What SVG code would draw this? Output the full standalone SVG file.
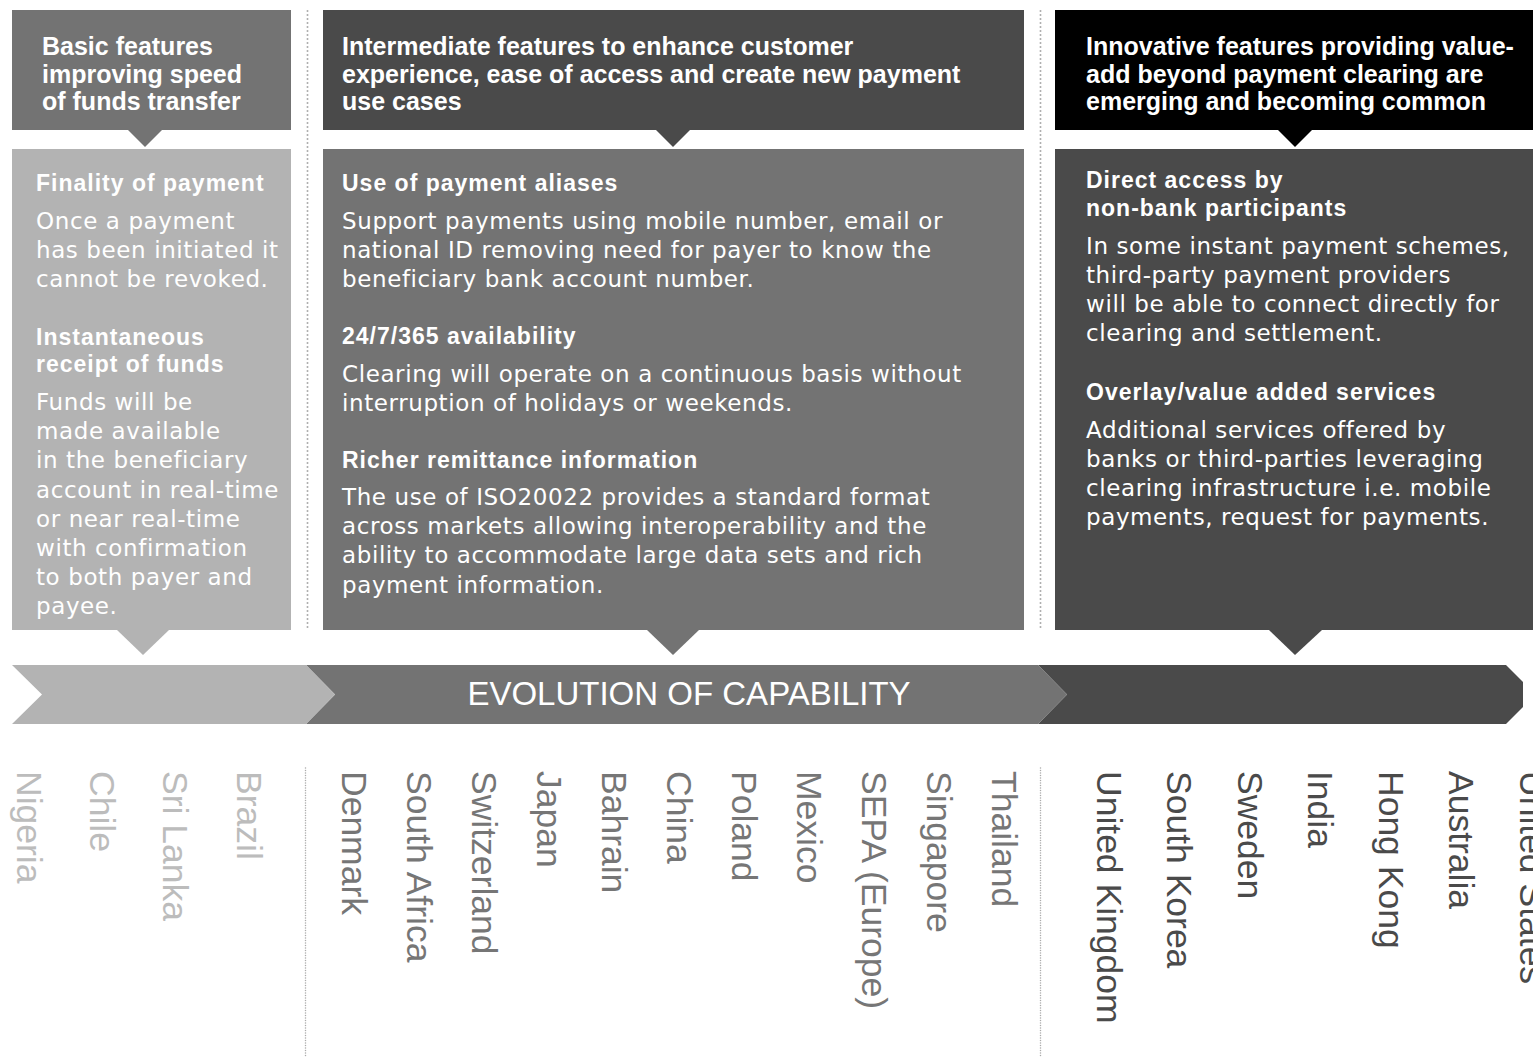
<svg xmlns="http://www.w3.org/2000/svg" width="1533" height="1062" viewBox="0 0 1533 1062">
  <style>
    .light { fill: #b3b3b3; }
    .mid { fill: #737373; }
    .dark { fill: #4a4a4a; }
    .black { fill: #000000; }
    .hdr { font-family: "Liberation Sans", Arial, sans-serif; font-weight: bold; font-size: 25px; fill: #ffffff; }
    .sub { font-family: "Liberation Sans", Arial, sans-serif; font-weight: bold; font-size: 23px; letter-spacing: 1px; fill: #ffffff; }
    .txt { font-family: "DejaVu Sans", "Liberation Sans", sans-serif; font-size: 23px; letter-spacing: 0.6px; fill: #ffffff; }
    .band { font-family: "Liberation Sans", Arial, sans-serif; font-size: 33px; fill: #ffffff; }
    .cty { font-family: "Liberation Sans", Arial, sans-serif; font-size: 35.5px; }
    .cl { fill: #bcbcbc; }
    .cm { fill: #767676; }
    .cd { fill: #4a4a4a; }
    .sep { stroke: #aaaaaa; stroke-width: 2; stroke-linecap: round; fill: none; }
    .sep-top { stroke-dasharray: 0 4; }
    .sep-bot { stroke-width: 1.5; stroke-dasharray: 0 2.5; }
  </style>

  <rect width="1533" height="1062" fill="#ffffff"/>

  <!-- column separators -->
  <g id="separators">
    <line class="sep sep-top" x1="307.5" y1="11" x2="307.5" y2="630"/>
    <line class="sep sep-top" x1="1040.5" y1="11" x2="1040.5" y2="630"/>
    <line class="sep sep-bot" x1="305.5" y1="768" x2="305.5" y2="1058"/>
    <line class="sep sep-bot" x1="1040.5" y1="768" x2="1040.5" y2="1058"/>
  </g>

  <!-- column headers -->
  <g id="header-basic">
    <rect class="mid" x="12" y="10" width="279" height="120"/>
    <text class="hdr" x="42" y="55">Basic features</text>
    <text class="hdr" x="42" y="83">improving speed</text>
    <text class="hdr" x="42" y="110">of funds transfer</text>
  </g>
  <g id="header-intermediate">
    <rect class="dark" x="323" y="10" width="701" height="120"/>
    <text class="hdr" x="342" y="55">Intermediate features to enhance customer</text>
    <text class="hdr" x="342" y="83">experience, ease of access and create new payment</text>
    <text class="hdr" x="342" y="110">use cases</text>
  </g>
  <g id="header-innovative">
    <rect class="black" x="1055" y="10" width="478" height="120"/>
    <text class="hdr" x="1086" y="55">Innovative features providing value-</text>
    <text class="hdr" x="1086" y="83">add beyond payment clearing are</text>
    <text class="hdr" x="1086" y="110">emerging and becoming common</text>
  </g>

  <!-- feature panels -->
  <g id="body-basic">
    <rect class="light" x="12" y="149" width="279" height="481"/>
    <text class="sub" x="36" y="191">Finality of payment</text>
    <text class="txt" x="36" y="229">Once a payment</text>
    <text class="txt" x="36" y="258">has been initiated it</text>
    <text class="txt" x="36" y="287">cannot be revoked.</text>
    <text class="sub" x="36" y="345">Instantaneous</text>
    <text class="sub" x="36" y="372">receipt of funds</text>
    <text class="txt" x="36" y="410">Funds will be</text>
    <text class="txt" x="36" y="439">made available</text>
    <text class="txt" x="36" y="468">in the beneficiary</text>
    <text class="txt" x="36" y="498">account in real-time</text>
    <text class="txt" x="36" y="527">or near real-time</text>
    <text class="txt" x="36" y="556">with confirmation</text>
    <text class="txt" x="36" y="585">to both payer and</text>
    <text class="txt" x="36" y="614">payee.</text>
  </g>
  <g id="body-intermediate">
    <rect class="mid" x="323" y="149" width="701" height="481"/>
    <text class="sub" x="342" y="191">Use of payment aliases</text>
    <text class="txt" x="342" y="229">Support payments using mobile number, email or</text>
    <text class="txt" x="342" y="258">national ID removing need for payer to know the</text>
    <text class="txt" x="342" y="287">beneficiary bank account number.</text>
    <text class="sub" x="342" y="344">24/7/365 availability</text>
    <text class="txt" x="342" y="382">Clearing will operate on a continuous basis without</text>
    <text class="txt" x="342" y="411">interruption of holidays or weekends.</text>
    <text class="sub" x="342" y="468">Richer remittance information</text>
    <text class="txt" x="342" y="505">The use of ISO20022 provides a standard format</text>
    <text class="txt" x="342" y="534">across markets allowing interoperability and the</text>
    <text class="txt" x="342" y="563">ability to accommodate large data sets and rich</text>
    <text class="txt" x="342" y="593">payment information.</text>
  </g>
  <g id="body-innovative">
    <rect class="dark" x="1055" y="149" width="478" height="481"/>
    <text class="sub" x="1086" y="188">Direct access by</text>
    <text class="sub" x="1086" y="216">non-bank participants</text>
    <text class="txt" x="1086" y="254">In some instant payment schemes,</text>
    <text class="txt" x="1086" y="283">third-party payment providers</text>
    <text class="txt" x="1086" y="312">will be able to connect directly for</text>
    <text class="txt" x="1086" y="341">clearing and settlement.</text>
    <text class="sub" x="1086" y="400">Overlay/value added services</text>
    <text class="txt" x="1086" y="438">Additional services offered by</text>
    <text class="txt" x="1086" y="467">banks or third-parties leveraging</text>
    <text class="txt" x="1086" y="496">clearing infrastructure i.e. mobile</text>
    <text class="txt" x="1086" y="525">payments, request for payments.</text>
  </g>

  <!-- pointers from headers to panels and from panels to the band -->
  <g id="connectors">
    <polygon class="mid" points="128,130 162,130 145,147"/>
    <polygon class="dark" points="656,130 690,130 673,147"/>
    <polygon class="black" points="1278,130 1312,130 1295,147"/>
    <polygon class="light" points="117,630 169,630 143,655"/>
    <polygon class="mid" points="647,630 699,630 673,655"/>
    <polygon class="dark" points="1269,630 1322,630 1295,655"/>
  </g>

  <!-- evolution band -->
  <g id="evolution-band">
    <polygon class="dark" points="1038,665 1506,665 1523,682 1523,707 1506,724 1038,724 1067,694.5"/>
    <polygon class="mid" points="306,665 1038,665 1067,694.5 1038,724 306,724 335,694.5"/>
    <polygon class="light" points="12,665 306,665 335,694.5 306,724 12,724 42,694.5"/>
    <text class="band" x="689" y="705" text-anchor="middle">EVOLUTION OF CAPABILITY</text>
  </g>

  <!-- markets by stage -->
  <g id="markets-basic" class="cty cl">
    <text transform="translate(17,771) rotate(90)">Nigeria</text>
    <text transform="translate(90,771) rotate(90)">Chile</text>
    <text transform="translate(163,771) rotate(90)">Sri Lanka</text>
    <text transform="translate(237,771) rotate(90)">Brazil</text>
  </g>
  <g id="markets-intermediate" class="cty cm">
    <text transform="translate(342,771) rotate(90)">Denmark</text>
    <text transform="translate(407,771) rotate(90)">South Africa</text>
    <text transform="translate(472,771) rotate(90)">Switzerland</text>
    <text transform="translate(537,771) rotate(90)">Japan</text>
    <text transform="translate(602,771) rotate(90)">Bahrain</text>
    <text transform="translate(667,771) rotate(90)">China</text>
    <text transform="translate(732,771) rotate(90)">Poland</text>
    <text transform="translate(797,771) rotate(90)">Mexico</text>
    <text transform="translate(862,771) rotate(90)">SEPA (Europe)</text>
    <text transform="translate(927,771) rotate(90)">Singapore</text>
    <text transform="translate(992,771) rotate(90)">Thailand</text>
  </g>
  <g id="markets-innovative" class="cty cd">
    <text transform="translate(1097,771) rotate(90)">United Kingdom</text>
    <text transform="translate(1167,771) rotate(90)">South Korea</text>
    <text transform="translate(1238,771) rotate(90)">Sweden</text>
    <text transform="translate(1308,771) rotate(90)">India</text>
    <text transform="translate(1379,771) rotate(90)">Hong Kong</text>
    <text transform="translate(1449,771) rotate(90)">Australia</text>
    <text transform="translate(1520,771) rotate(90)">United States</text>
  </g>
</svg>
